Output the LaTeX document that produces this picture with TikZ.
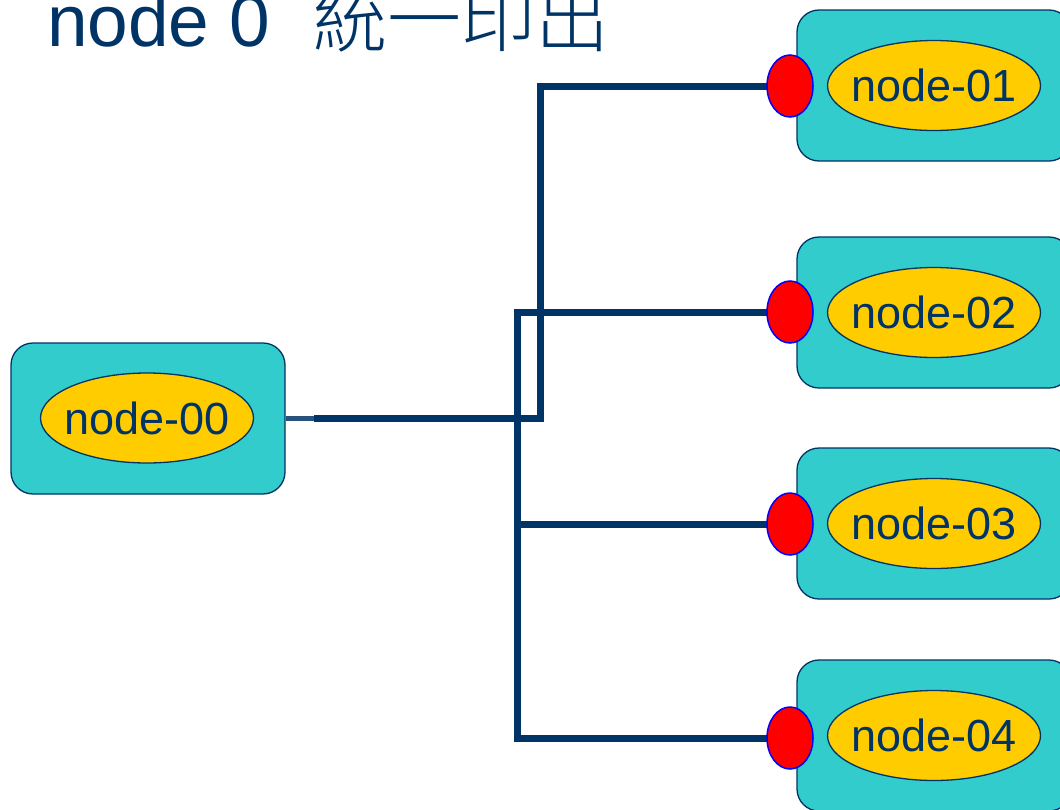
\documentclass[tikz,border=0pt]{standalone}
\usepackage{fontspec}
\setmainfont{Liberation Sans}
\newfontfamily\cjk{Noto Sans CJK TC}[UprightFont={* Light}]
\usetikzlibrary{shapes.geometric}
\definecolor{navy}{HTML}{003366}
\definecolor{teal}{HTML}{33CCCC}
\definecolor{gold}{HTML}{FFCC00}
\tikzset{
  hostbox/.style={draw=navy, line width=1.3pt, fill=teal, rounded corners=22pt,
    minimum width=274pt, minimum height=151pt, inner sep=0pt},
  label/.style={ellipse, draw=navy, line width=1.3pt, fill=gold, text=navy,
    minimum width=213pt, minimum height=90pt, inner xsep=-8pt, inner ysep=0pt,
    font=\fontsize{45pt}{45pt}\selectfont},
  port/.style={ellipse, draw=blue, line width=1.5pt, fill=red,
    minimum width=46pt, minimum height=62pt, inner sep=0pt},
  bus/.style={draw=navy, line width=7pt},
  stub/.style={draw=navy!85, line width=5pt},
}
\begin{document}
\begin{tikzpicture}[x=1pt, y=-1pt]
\useasboundingbox (0,0) rectangle (1060,809);

% title
\node[anchor=base west, inner sep=0pt, text=navy,
  font=\fontsize{73pt}{73pt}\selectfont] (title) at (47,46) {node 0};
\node[anchor=base west, inner sep=0pt, text=navy,
  font=\cjk\fontsize{74pt}{74pt}\selectfont] (titlecjk) at (313,46) {統一印出};

% source host
\node[hostbox] (box00) at (148,418.5) {};
\node[label] (lab00) at (147,418) {node-00};

% destination hosts
\foreach \i/\y in {01/85.5, 02/312.5, 03/523.5, 04/735.5}{
  \node[hostbox] (box\i) at (934,\y) {};
  \node[label] (lab\i) at (934,\y) {node-\i};
}

% junction points of the wiring
\coordinate (j0) at (314,418);
\coordinate (kA) at (540,418);
\coordinate (kB) at (517,738);

% wiring (drawn before the ports so the ports sit on top)
\draw[stub] (box00.east |- j0) -- (j0);
\draw[bus] (j0) -- (kA) |- (790,86);
\draw[bus] (790,312) -| (kB) -- (790,738);
\draw[bus] (kB |- 0,524) -- (790,524);

% ports
\node[port] (p01) at (790,86) {};
\node[port] (p02) at (790,312) {};
\node[port] (p03) at (790,524) {};
\node[port] (p04) at (790,738) {};
\end{tikzpicture}
\end{document}
